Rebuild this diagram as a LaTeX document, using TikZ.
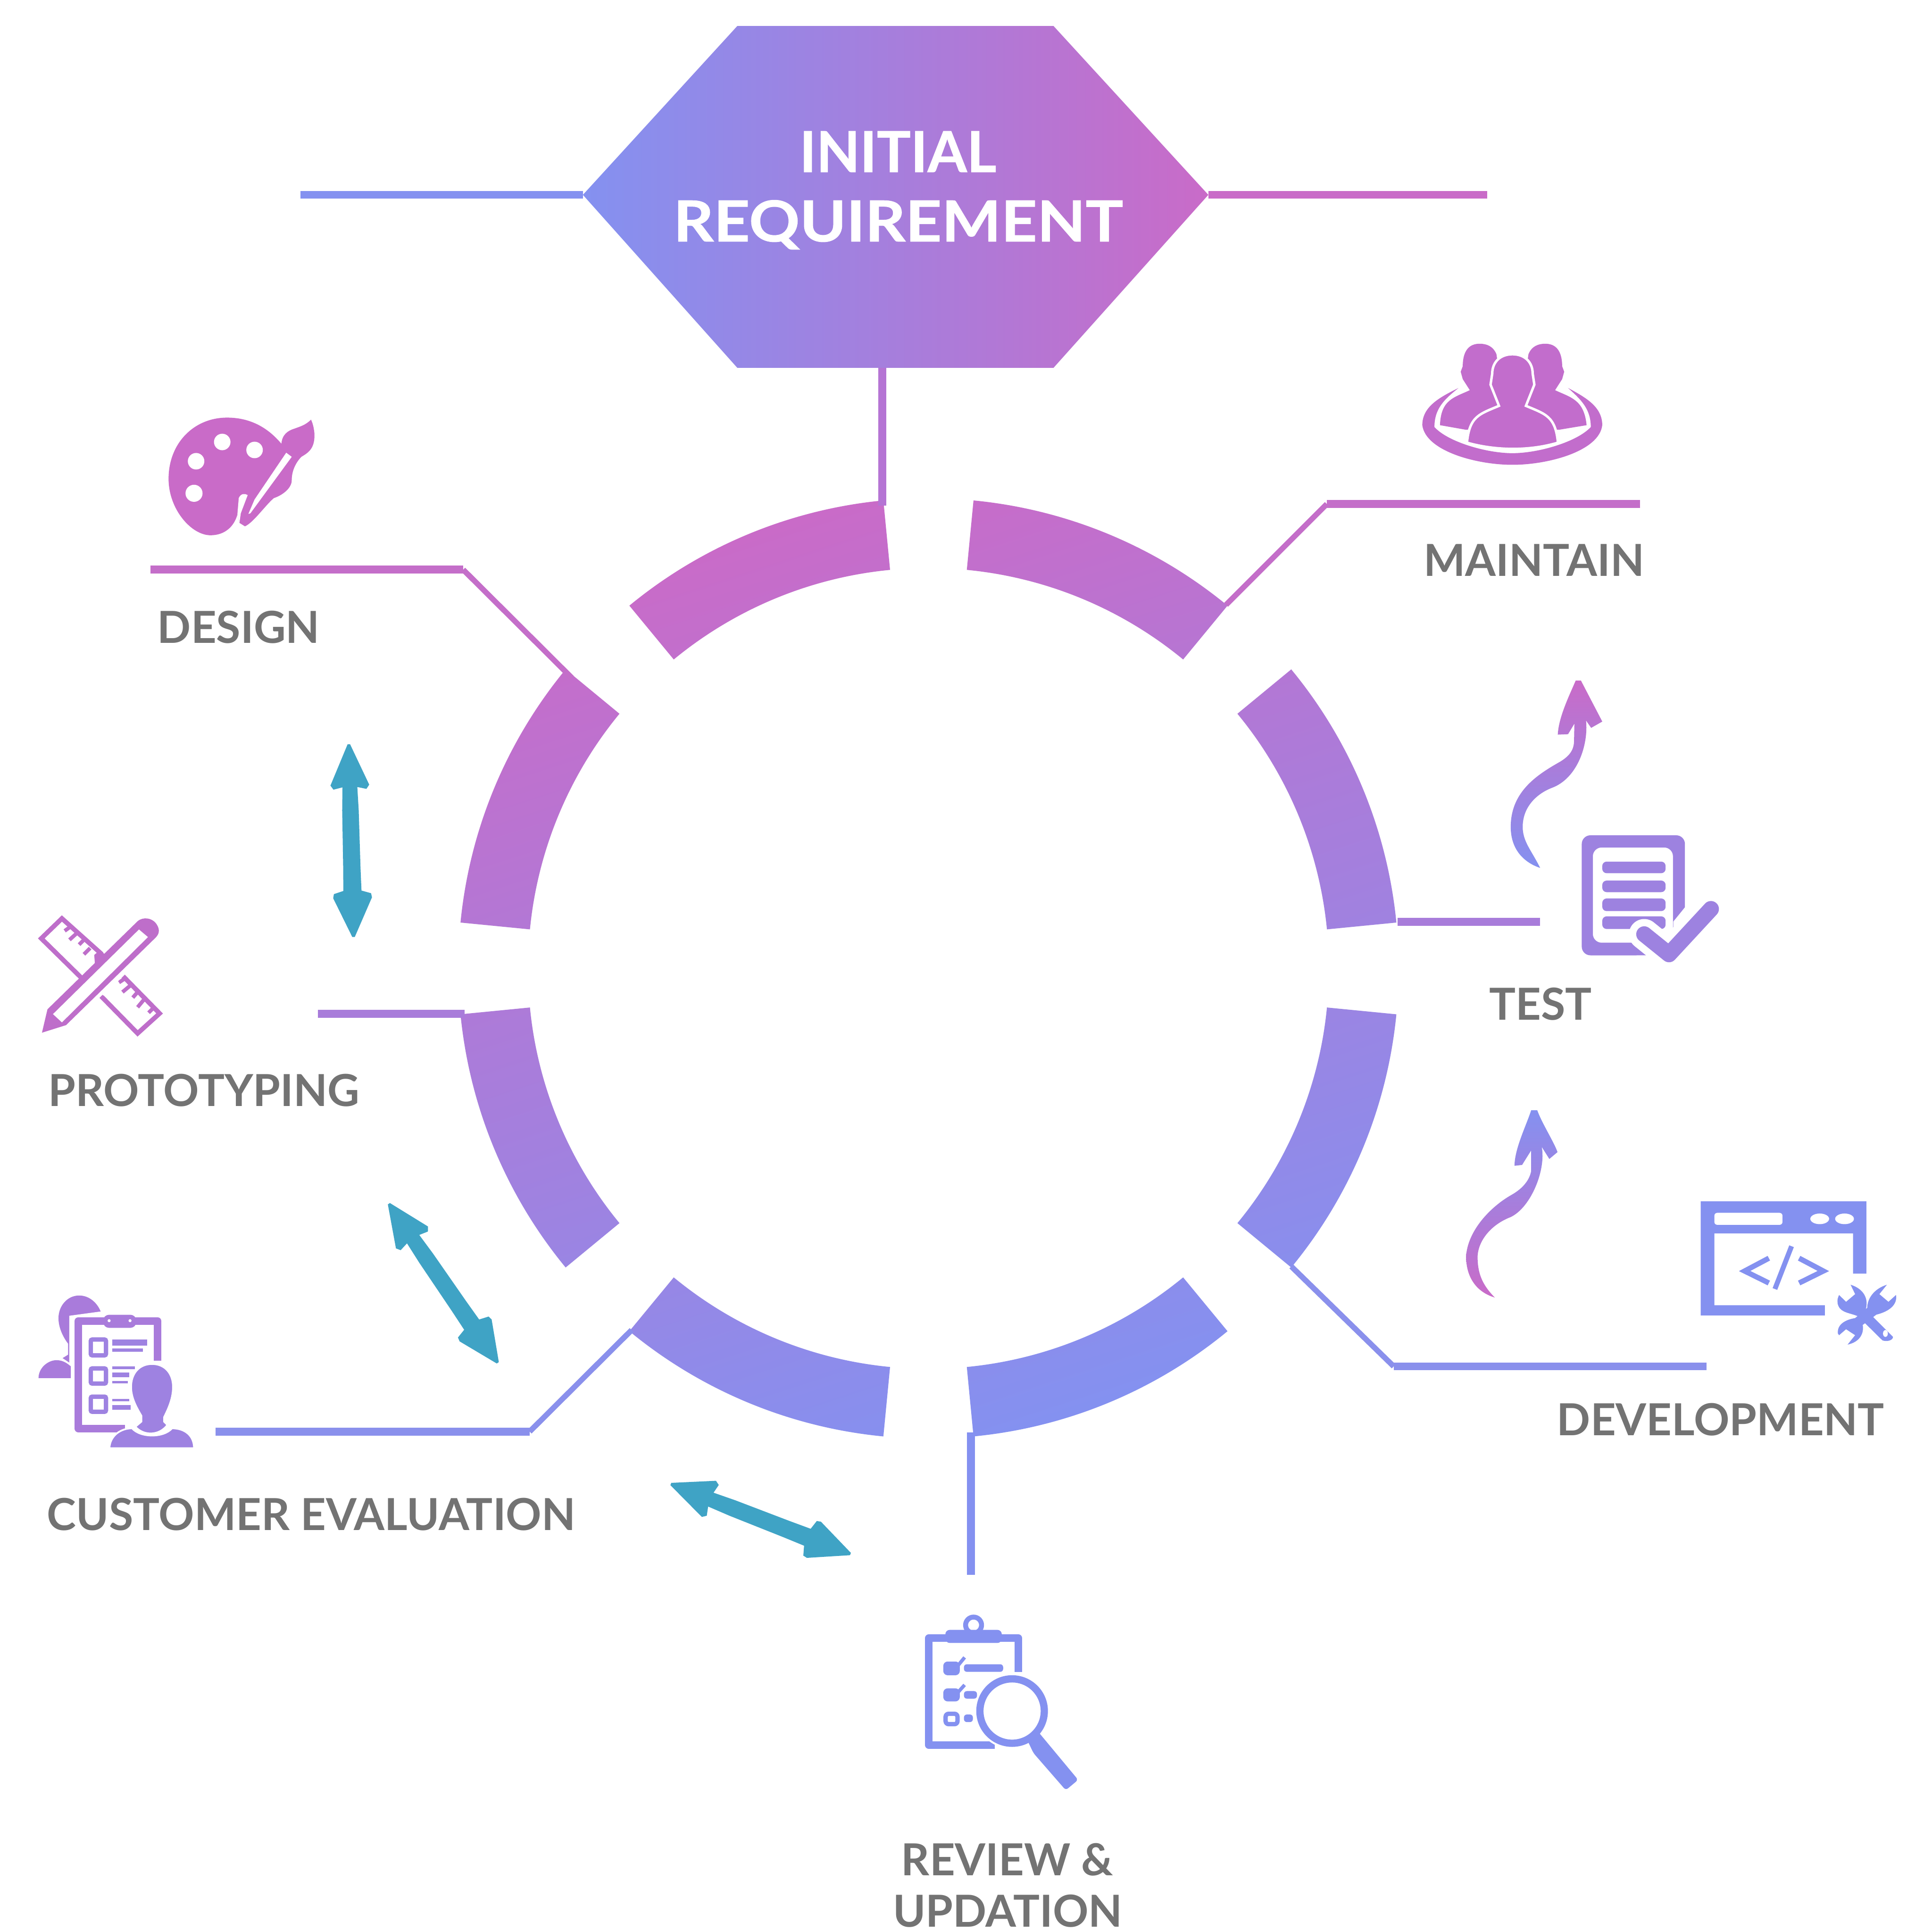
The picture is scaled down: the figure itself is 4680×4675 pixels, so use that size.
\documentclass[tikz,border=0pt]{standalone}
\usepackage{graphicx}
\usepackage{fontspec}
\setmainfont{Lato}
\newfontfamily\headf[BoldFeatures={FakeBold=0.8}]{Lato}
\usetikzlibrary{calc}
\definecolor{pinkc}{HTML}{C96BC8}
\definecolor{bluec}{HTML}{8491F0}
\definecolor{tealc}{HTML}{3FA3C5}
\definecolor{textc}{HTML}{737373}
\definecolor{lnA}{HTML}{C46EC9}
\definecolor{lnB}{HTML}{B574D4}
\definecolor{lnC}{HTML}{A87CDA}
\definecolor{lnD}{HTML}{8A90EC}
\definecolor{icoMaint}{HTML}{C26DCC}
\definecolor{icoTest}{HTML}{9D82E0}
\definecolor{icoProto}{HTML}{BE6ECA}
\definecolor{icoCustA}{HTML}{A97BDB}
\definecolor{icoCustB}{HTML}{9E82E1}
\def\cxx{2249}\def\cyy{2346}\def\Ro{1139}\def\Ri{970}
\newcommand\ringseg[2]{({\cxx+\Ro*cos(#1)},{\cyy+\Ro*sin(#1)}) arc[start angle=#1,end angle=#2,radius=\Ro] -- ({\cxx+\Ri*cos(#2)},{\cyy+\Ri*sin(#2)}) arc[start angle=#2,end angle=#1,radius=\Ri] -- cycle }
\newcommand\tealarrow[2]{\begin{scope}[shift={#1},rotate=#2]
\fill[tealc] (0,-3) -- (99,-47) -- (109,-40) -- (104,-18) -- (160,-20) -- (300,-21) -- (355,-22) -- (362,-45) -- (372,-47) -- (467,-3) -- (467,3) -- (372,47) -- (362,45) -- (355,22) -- (300,21) -- (160,20) -- (104,18) -- (109,40) -- (99,47) -- (0,3) -- cycle;
\end{scope}}
\tikzset{
 lab/.style={text=textc,font=\fontsize{30.4}{30.4}\selectfont\bfseries,anchor=base,inner sep=0pt,outer sep=0pt},
 headlab/.style={text=white,font=\headf\fontsize{39}{39}\selectfont\bfseries,anchor=base,inner sep=0pt,outer sep=0pt},
 conn/.style={line width=5.4pt,line join=miter},
 connthin/.style={line width=3.8pt}
}
\begin{document}
\begin{tikzpicture}[x=0.01cm,y=-0.01cm]
\useasboundingbox (0,0) rectangle (4680,4675);
\fill[white] (0,0) rectangle (4680,4675);

% ring
\shade[shading=axis,top color=pinkc,bottom color=bluec,shading angle=18]
 \ringseg{-95.5}{-129.5} \ringseg{-84.5}{-50.5} \ringseg{-39.5}{-5.6} \ringseg{5.6}{39.5}
 \ringseg{50.5}{84.5} \ringseg{95.5}{129.5} \ringseg{140.5}{174.4} \ringseg{-174.4}{-140.5};

% connector ends
\coordinate (hl) at (1412,472); \coordinate (hr) at (2927,472);
\coordinate (hb) at (2137,891); \coordinate (ht) at (2137,1225);
\coordinate (lfree) at (728,472); \coordinate (rfree) at (3603,472);
\coordinate (d0) at (364,1380); \coordinate (d1) at (1122,1380); \coordinate (d2) at (1385,1642);
\coordinate (m0) at (3973,1221); \coordinate (m1) at (3214,1221); \coordinate (m2) at (2970,1465);
\coordinate (t0) at (3385,2233); \coordinate (t1) at (3731,2233);
\coordinate (p0) at (770,2456); \coordinate (p1) at (1125,2456);
\coordinate (v0) at (3128,3068); \coordinate (v1) at (3376,3310); \coordinate (v2) at (4134,3310);
\coordinate (c0) at (522,3468); \coordinate (c1) at (1283,3468); \coordinate (c2) at (1530,3222);
\coordinate (r0) at (2352,3470); \coordinate (r1) at (2352,3815);

\draw[conn,bluec] (lfree) -- (hl);
\draw[conn,pinkc] (hr) -- (rfree);
\draw[conn,lnB] (hb) -- (ht);
\draw[connthin,lnA] (d1) -- (d2);
\draw[conn,lnA] (d0) -- (d1);
\draw[connthin,lnA] (m1) -- (m2);
\draw[conn,lnA] (m0) -- (m1);
\draw[conn,lnC] (t0) -- (t1);
\draw[conn,lnC] (p0) -- (p1);
\draw[connthin,lnD] (v0) -- (v1);
\draw[conn,lnD] (v1) -- (v2);
\draw[connthin,lnD] (c1) -- (c2);
\draw[conn,lnD] (c0) -- (c1);
\draw[conn,bluec] (r0) -- (r1);

% hexagon
\shade[left color=bluec,right color=pinkc] (1412,472) -- (1786,63) -- (2552,63) -- (2927,472) -- (2552,891) -- (1786,891) -- cycle;
\node[headlab] (title1) at (2175,417) {INITIAL};
\node[headlab] (title2) at (2176,585) {\scalebox{1.11}[1]{REQUIREMENT}};

% labels
\node[lab] (ldesign) at (578,1558) {DESIGN};
\node[lab] (lmaintain) at (3716,1396) {MAINTAIN};
\node[lab] (ltest) at (3732,2471) {TEST};
\node[lab] (lproto) at (494,2680) {PROTOTYPING};
\node[lab] (ldev) at (4168,3477) {DEVELOPMENT};
\node[lab] (lcust) at (754,3707) {CUSTOMER EVALUATION};
\node[lab] (lrev1) at (2440,4543) {REVIEW \&};
\node[lab] (lrev2) at (2441,4668) {UPDATION};

% teal arrows
\tealarrow{(845,1803)}{-88.6}
\tealarrow{(942,2916)}{-55.6}
\tealarrow{(1625,3595)}{-21.3}

% palette (design)
\begin{scope}[shift={(330,950)},scale=1/3]
\fill[pinkc] (1055,375) .. controls (950,250) and (820,185) .. (660,185) .. controls (420,185) and (235,370) .. (235,630) .. controls (235,850) and (400,1040) .. (540,1040) .. controls (640,1040) and (710,980) .. (735,890) -- (750,950) -- (790,975) .. controls (850,950) and (940,820) .. (1000,770) .. controls (1060,750) and (1130,700) .. (1130,640) .. controls (1130,560) and (1170,500) .. (1200,470) .. controls (1250,440) and (1300,410) .. (1295,300) .. controls (1290,250) and (1280,220) .. (1270,200) .. controls (1230,240) and (1190,250) .. (1150,265) .. controls (1100,280) and (1060,310) .. (1055,375) -- cycle;
\fill[white] (735,890) -- (745,770) .. controls (760,735) and (790,735) .. (810,748) -- (760,880) -- (750,950) -- cycle;
\fill[white] (1090,440) -- (1130,470) -- (830,880) -- (815,885) -- (860,780) -- cycle;
\fill[white] (625,362) circle[radius=60] (860,420) circle[radius=60] (435,502) circle[radius=60] (420,735) circle[radius=62];
\end{scope}

% people (maintain)
\begin{scope}[shift={(3380,780)},xscale=640/1568,yscale=700/1568]
\fill[icoMaint] (375,358) .. controls (260,410) and (160,460) .. (160,560) .. controls (180,700) and (480,775) .. (695,775) .. controls (910,775) and (1210,700) .. (1228,560) .. controls (1228,460) and (1130,410) .. (1025,358) .. controls (1100,420) and (1160,470) .. (1160,570) .. controls (1080,650) and (850,712) .. (695,712) .. controls (540,712) and (310,650) .. (232,570) .. controls (232,470) and (290,420) .. (375,358) -- cycle;
\fill[icoMaint] (500,118) .. controls (420,118) and (400,180) .. (400,240) -- (388,270) -- (400,310) -- (442,370) .. controls (350,410) and (270,420) .. (265,560) -- (420,585) -- (620,585) -- (620,300) -- (600,175) .. controls (580,130) and (540,118) .. (500,118) -- cycle;
\fill[icoMaint] (890,118) .. controls (970,118) and (990,180) .. (990,240) -- (1002,270) -- (990,310) -- (948,370) .. controls (1040,410) and (1120,420) .. (1135,560) -- (970,585) -- (770,585) -- (770,300) -- (790,175) .. controls (810,130) and (850,118) .. (890,118) -- cycle;
\filldraw[icoMaint,draw=white,line width=1.7pt] (695,175) .. controls (620,175) and (575,220) .. (575,280) -- (565,340) -- (615,455) .. controls (500,500) and (440,510) .. (425,655) .. controls (600,700) and (800,700) .. (965,655) .. controls (950,510) and (890,500) .. (775,455) -- (825,340) -- (815,280) .. controls (815,220) and (770,175) .. (695,175) -- cycle;
\end{scope}

% curved arrow (test to maintain) and document
\begin{scope}[shift={(3560,1600)},xscale=650/1568,yscale=800/1568]
\shade[top color=pinkc,bottom color=bluec] (412,985) .. controls (320,960) and (240,900) .. (240,790) .. controls (240,620) and (400,540) .. (530,480) .. controls (590,450) and (610,420) .. (610,380) -- (612,300) -- (575,350) -- (515,352) .. controls (520,270) and (580,170) .. (620,95) -- (650,95) -- (775,290) -- (710,320) -- (680,285) .. controls (695,400) and (630,560) .. (480,605) .. controls (400,630) and (310,690) .. (310,790) .. controls (310,860) and (360,900) .. (412,985) -- cycle;
\fill[icoTest,rounded corners=6pt,even odd rule] (655,830) rectangle (1258,1400) (720,888) rectangle (1188,1340);
\foreach \a/\b in {955/1010,1045/1100,1130/1190,1215/1275}
 \fill[icoTest,rounded corners=3pt] (775,\a) rectangle (1145,\b);
\draw[white,line width=21pt,line cap=round,line join=round] (1020,1300) -- (1165,1395) -- (1410,1180);
\fill[white] (1190,1240) -- (1270,1160) -- (1270,1420) -- (975,1420) -- (975,1400) -- (1190,1400) -- cycle;
\draw[icoTest,line width=11pt,line cap=round,line join=round] (1020,1300) -- (1165,1395) -- (1410,1180);
\end{scope}

% curved arrow (development to test) and window with tools
\begin{scope}[shift={(3500,2650)},xscale=1150/1568,yscale=650/1568]
\shade[top color=bluec,bottom color=pinkc] (165,1190) .. controls (90,1150) and (70,1040) .. (70,950) .. controls (75,800) and (150,660) .. (220,590) .. controls (260,550) and (280,500) .. (285,450) -- (285,330) -- (255,415) -- (230,420) .. controls (230,320) and (270,180) .. (285,95) -- (305,95) .. controls (320,170) and (360,280) .. (372,340) -- (345,380) -- (320,310) .. controls (335,450) and (280,680) .. (210,725) .. controls (150,770) and (110,860) .. (108,950) .. controls (108,1040) and (120,1110) .. (165,1190) -- cycle;
\fill[bluec] (845,628) -- (1392,628) -- (1392,1050) -- (1348,1050) -- (1348,815) -- (890,815) -- (890,1235) -- (1255,1235) -- (1255,1295) -- (845,1295) -- cycle;
\fill[white,rounded corners=2pt] (890,695) rectangle (1115,765);
\fill[white] (1238,730) circle[radius=31] (1320,730) circle[radius=31];
\draw[bluec,line width=3.6pt,line join=miter] (1070,960) -- (990,1035) -- (1070,1105);
\draw[bluec,line width=3.6pt,line join=miter] (1170,960) -- (1250,1035) -- (1170,1105);
\draw[bluec,line width=3.4pt] (1145,890) -- (1090,1140);
\fill[bluec] (1340,1115) .. controls (1385,1140) and (1400,1200) .. (1390,1260) -- (1480,1420) .. controls (1480,1440) and (1460,1450) .. (1445,1440) -- (1365,1300) .. controls (1340,1280) and (1310,1280) .. (1300,1240) .. controls (1295,1220) and (1295,1200) .. (1302,1175) -- (1325,1215) -- (1355,1170) -- cycle;
\fill[bluec] (1460,1115) .. controls (1415,1140) and (1395,1200) .. (1395,1250) -- (1355,1310) .. controls (1320,1320) and (1295,1350) .. (1298,1400) -- (1302,1410) -- (1325,1375) -- (1355,1410) -- (1330,1465) .. controls (1370,1450) and (1385,1400) .. (1380,1350) -- (1425,1290) .. controls (1470,1270) and (1495,1230) .. (1490,1175) -- (1465,1215) -- (1435,1170) -- cycle;
\fill[white] (1455,1400) ellipse[x radius=8,y radius=20];
\end{scope}

% clipboard and magnifier (review)
\begin{scope}[shift={(2180,3880)},scale=1/3]
\draw[bluec,line width=5.2pt,line join=round] (860,510) -- (860,265) -- (210,265) -- (210,1042) -- (690,1042);
\draw[bluec,line width=3.4pt] (535,170) circle[radius=58];
\fill[bluec,rounded corners=3pt] (330,205) rectangle (740,300);
\fill[bluec,rounded corners=3pt] (315,435) rectangle (435,535) (315,630) rectangle (435,725);
\draw[bluec,line width=2.4pt] (425,460) -- (470,405) (425,655) -- (470,605);
\draw[bluec,line width=3pt,rounded corners=2pt] (332,815) rectangle (418,890);
\fill[bluec,rounded corners=2pt] (465,455) rectangle (750,510) (465,650) rectangle (560,705) (465,820) rectangle (530,875);
\fill[white] (815,795) circle[radius=275];
\draw[bluec,line width=5pt] (815,795) circle[radius=234];
\fill[bluec,rounded corners=2pt] (925,1005) -- (1000,940) -- (1295,1295) -- (1205,1370) -- (970,1100) -- cycle;
\end{scope}

% clipboard and persons (customer evaluation)
\begin{scope}[shift={(70,3100)},scale=1/3]
\fill[icoCustA] (365,115) .. controls (280,115) and (215,190) .. (215,280) .. controls (215,350) and (250,420) .. (285,465) -- (285,545) -- (245,570) -- (320,620) -- (320,280) -- (525,240) .. controls (500,170) and (440,115) .. (365,115) -- cycle;
\fill[icoCustA] (70,715) .. controls (70,640) and (140,585) .. (200,585) .. controls (250,585) and (280,610) .. (305,630) -- (305,715) -- cycle;
\draw[white,line width=6pt] (325,620) -- (325,290) -- (530,262);
\draw[icoCustA,line width=5.2pt,line join=round] (935,590) -- (935,300) -- (360,300) -- (360,1082) -- (700,1082);
\fill[icoCustA,rounded corners=4pt] (540,255) rectangle (780,350);
\fill[white] (583,298) circle[radius=11] (735,298) circle[radius=11];
\foreach \a/\b in {420/565,630/770,835/975}
 \draw[icoCustB,line width=3pt,rounded corners=1pt] (450,\a+15) rectangle (560,\b-15);
\foreach \xa/\a/\xb/\b in {860/435/605/480,830/500/605/525,770/630/605/650,730/675/605/710,720/735/605/755,730/865/605/885,740/910/605/945}
 \fill[icoCustB] (\xb,\a) rectangle (\xa,\b);
\filldraw[icoCustB,draw=white,line width=1.7pt] (895,610) .. controls (800,610) and (740,680) .. (740,780) .. controls (740,860) and (780,930) .. (815,990) -- (815,1030) -- (770,1068) .. controls (830,1140) and (950,1140) .. (1010,1055) -- (985,1030) -- (985,1000) .. controls (1020,930) and (1050,860) .. (1050,780) .. controls (1050,680) and (990,610) .. (895,610) -- cycle;
\filldraw[icoCustB,draw=white,line width=1.2pt] (585,1225) .. controls (590,1130) and (670,1080) .. (750,1080) .. controls (810,1150) and (980,1150) .. (1040,1080) .. controls (1130,1080) and (1200,1130) .. (1200,1225) -- cycle;
\end{scope}

% pencil and ruler (prototyping)
\begin{scope}[shift={(70,2190)},scale=1/3]
\draw[icoProto,line width=3.2pt,line join=miter] (380,535) -- (90,250) -- (240,105) -- (530,365);
\draw[icoProto,line width=3.2pt,line join=miter] (525,670) -- (790,940) -- (950,795) -- (680,520);
\foreach \xa/\ya/\xb/\yb in {295/170/260/195,345/215/295/260,395/265/365/295,445/320/400/365,700/540/655/570,740/590/680/640,790/640/755/680,840/690/790/750,900/760/870/790}
 \draw[icoProto,line width=2.6pt] (\xa,\ya) -- (\xb,\yb);
\fill[icoProto] (510,340) -- (565,370) -- (480,440) -- (475,370) -- cycle;
\fill[white] (520,640) -- (680,490) -- (700,510) -- (540,665) -- cycle;
\fill[icoProto] (135,765) -- (790,125) .. controls (830,90) and (900,100) .. (930,150) .. controls (955,190) and (945,220) .. (920,245) -- (270,880) -- (95,935) -- cycle;
\fill[white] (175,800) -- (800,185) -- (865,240) -- (240,860) -- cycle;
\end{scope}
\end{tikzpicture}
\end{document}
